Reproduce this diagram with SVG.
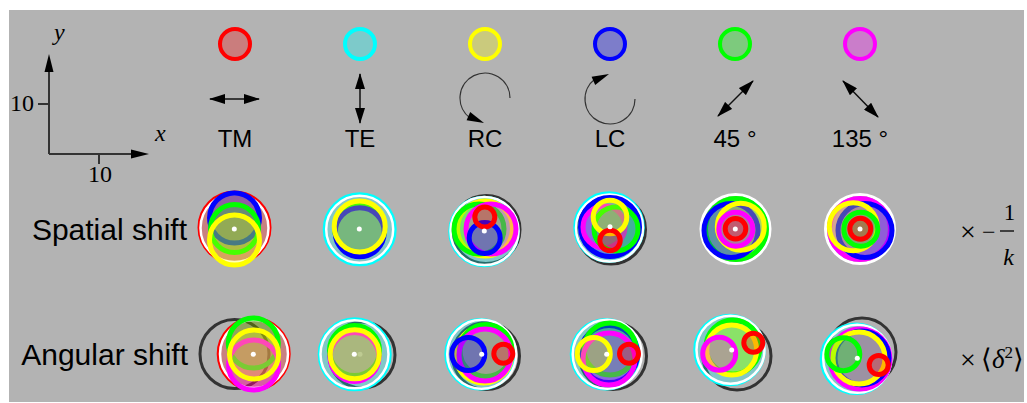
<svg xmlns="http://www.w3.org/2000/svg" width="1027" height="403" viewBox="0 0 1027 403">
<style>
.bg{fill:#b3b3b3}
.lab{font-family:"Liberation Sans",Arial,sans-serif;font-size:24px;fill:#000}
.row{font-size:30px}
.ser{font-family:"Liberation Serif","Times New Roman",serif;font-size:24px;fill:#000}
.it{font-style:italic}
.ax{stroke:#333;stroke-width:2;fill:none}
.arr{stroke:#111;stroke-width:1.5;fill:none;marker-start:url(#ah);marker-end:url(#ah)}
.arc{stroke:#333;stroke-width:1.2;fill:none}
.hd{fill:#000}
circle{stroke-width:5;fill-opacity:.28}
.R{stroke:#f00;fill:#f00}.C{stroke:#0ff;fill:#0ff}.Y{stroke:#ff0;fill:#ff0}
.B{stroke:#00f;fill:#00f}.G{stroke:#0f0;fill:#0f0}.M{stroke:#f0f;fill:#f0f}
.th{stroke-width:3}
.W{stroke:#fff;fill:none;stroke-width:2.5}
.K{stroke:#333;fill:none;stroke-width:3}
.d{fill:#fff;stroke:none;fill-opacity:1}
.lg{stroke-width:4;fill-opacity:.3}
</style>
<defs>
<marker id="ah" viewBox="0 0 16 10" refX="15" refY="5" markerWidth="16" markerHeight="10" orient="auto-start-reverse" markerUnits="userSpaceOnUse"><path d="M0,0 L16,5 L0,10 z" fill="#000"/></marker>
</defs>
<rect width="1027" height="403" fill="#fff"/>
<rect class="bg" x="9" y="10" width="1015" height="392"/>

<g id="axes">
<path class="ax" d="M49,154 V68 M49,154 H134 M38,104 H49 M99,154 V164"/>
<path class="hd" d="M49,54 L53.5,72 L44.5,72 z M149,154 L131,158.5 L131,149.5 z"/>
<text class="ser" x="34" y="111" text-anchor="end">10</text>
<text class="ser" x="100" y="182" text-anchor="middle">10</text>
<text class="ser it" x="155" y="141">x</text>
<text class="ser it" x="54" y="40">y</text>
</g>

<g id="connectors"></g>

<g id="legend-TM">
<circle class="R lg" cx="235" cy="44" r="15"/>
<line class="arr" x1="210" y1="99" x2="259" y2="99"/>
<text class="lab" x="235" y="147" text-anchor="middle">TM</text>
</g>
<g id="legend-TE">
<circle class="C lg" cx="360" cy="44" r="15"/>
<line class="arr" x1="360" y1="74" x2="360" y2="123"/>
<text class="lab" x="360" y="147" text-anchor="middle">TE</text>
</g>
<g id="legend-RC">
<circle class="Y lg" cx="485" cy="44" r="15"/>
<path class="arc" d="M510,98 A25,25 0 1 0 470,118"/>
<path class="hd" d="M484,123 L466.6,120.3 L470.2,112.1 z"/>
<text class="lab" x="485" y="147" text-anchor="middle">RC</text>
</g>
<g id="legend-LC">
<circle class="B lg" cx="610" cy="44" r="15"/>
<path class="arc" d="M635,99 A25,25 0 1 1 595,79"/>
<path class="hd" d="M609,74 L591.6,76.7 L595.2,84.9 z"/>
<text class="lab" x="610" y="147" text-anchor="middle">LC</text>
</g>
<g id="legend-45">
<circle class="G lg" cx="735" cy="44" r="15"/>
<line class="arr" x1="718" y1="116" x2="753" y2="81"/>
<text class="lab" x="735" y="147" text-anchor="middle">45 °</text>
</g>
<g id="legend-135">
<circle class="M lg" cx="860" cy="44" r="15"/>
<line class="arr" x1="843" y1="81" x2="878" y2="117"/>
<text class="lab" x="860" y="147" text-anchor="middle">135 °</text>
</g>

<g id="row-spatial">
<text class="lab row" x="187" y="240" text-anchor="end">Spatial shift</text>
</g>
<g id="row-angular">
<text class="lab row" x="188" y="365" text-anchor="end">Angular shift</text>
</g>

<g id="s-TM">
<circle class="R th" cx="234.5" cy="227.5" r="35.5"/>
<circle class="W" cx="234.5" cy="228" r="34"/>
<circle class="B" cx="234.5" cy="218" r="25"/>
<circle class="G" cx="234.5" cy="228.5" r="24"/>
<circle class="Y" cx="234.5" cy="240" r="25"/>
<circle class="d" cx="234.3" cy="229" r="2.5"/>
</g>
<g id="s-TE">
<circle class="C th" cx="359.7" cy="229.3" r="35.5"/>
<circle class="W" cx="359.7" cy="229.3" r="33.5"/>
<circle class="G" cx="359.7" cy="229" r="25"/>
<circle class="B" cx="359.7" cy="232.3" r="24.5"/>
<circle class="Y" cx="359.7" cy="226.5" r="25.5"/>
<circle class="d" cx="359.3" cy="229" r="2.5"/>
</g>
<g id="s-RC">
<circle class="K" cx="486" cy="229.5" r="34"/>
<circle class="C" style="stroke-width:2.5" cx="484" cy="231.5" r="34.5"/>
<circle class="W" cx="484.5" cy="231" r="34"/>
<circle class="Y" cx="485" cy="228.5" r="27.5"/>
<circle class="G" cx="479" cy="229" r="25"/>
<circle class="M" cx="491" cy="229" r="25"/>
<circle class="B" cx="484.7" cy="238" r="15.5"/>
<circle class="R" cx="484.8" cy="217" r="10"/>
<circle class="d" cx="484.3" cy="231" r="2.5"/>
</g>
<g id="s-LC">
<circle class="K" cx="611" cy="229.5" r="34.5"/>
<circle class="C" style="stroke-width:2.5" cx="609" cy="227" r="34.5"/>
<circle class="W" cx="609.5" cy="228" r="33.5"/>
<circle class="B" cx="610" cy="227" r="29.5"/>
<circle class="M" cx="604" cy="227" r="21"/>
<circle class="G" cx="616" cy="229" r="22"/>
<circle class="Y" cx="610" cy="217" r="16.8"/>
<circle class="R" cx="610" cy="240.5" r="10.2"/>
<circle class="d" cx="610" cy="226.7" r="2.5"/>
</g>
<g id="s-45">
<circle class="W" style="stroke-width:3" cx="735.5" cy="229" r="34.5"/>
<circle class="G" cx="736" cy="229" r="30.5"/>
<circle class="B" cx="731" cy="230.5" r="27"/>
<circle class="Y" cx="740.8" cy="226.7" r="23.5"/>
<circle class="M" cx="735.8" cy="229.2" r="17"/>
<circle class="R" cx="735.5" cy="228.8" r="10.3"/>
<circle class="d" cx="735.3" cy="229" r="2.5"/>
</g>
<g id="s-135">
<circle class="W" style="stroke-width:3" cx="860" cy="229" r="34.5"/>
<circle class="M" cx="860" cy="229" r="30.5"/>
<circle class="B" cx="865" cy="230.5" r="27"/>
<circle class="Y" cx="853.3" cy="226.7" r="24"/>
<circle class="G" cx="860.8" cy="229.2" r="17"/>
<circle class="R" cx="860.3" cy="228.8" r="10.5"/>
<circle class="d" cx="860" cy="229" r="2.5"/>
</g>

<g id="a-TM">
<circle class="K" cx="234.5" cy="354" r="34.5"/>
<circle class="R th" cx="253.7" cy="354" r="35.5"/>
<circle class="W" cx="254" cy="354" r="34"/>
<circle class="G" cx="253.3" cy="343" r="25"/>
<circle class="M" cx="253.5" cy="365" r="25"/>
<circle class="Y" cx="254" cy="354.5" r="24.5"/>
<circle class="d" cx="253.3" cy="354.3" r="2.5"/>
</g>
<g id="a-TE">
<circle class="K" cx="362" cy="355" r="33"/>
<circle class="d" cx="360" cy="354.3" r="2.5"/>
<circle class="C th" cx="354.7" cy="354.3" r="35.5"/>
<circle class="W" cx="354.5" cy="354.3" r="34"/>
<circle class="G" cx="354.5" cy="350.5" r="25"/>
<circle class="M" cx="354.5" cy="357" r="24.5"/>
<circle class="Y" cx="354.7" cy="354.3" r="24.5"/>
<circle class="d" cx="354.3" cy="354.3" r="2.5"/>
</g>
<g id="a-RC">
<circle class="K" cx="486" cy="356" r="33.5"/>
<circle class="C" style="stroke-width:2.5" cx="480.5" cy="354.3" r="35"/>
<circle class="W" cx="481.7" cy="354.3" r="34.5"/>
<circle class="Y" cx="483.5" cy="355" r="28"/>
<circle class="G" cx="486" cy="350.5" r="26"/>
<circle class="M" cx="485" cy="355" r="26"/>
<circle class="B" cx="468.3" cy="354" r="16.5"/>
<circle class="R" cx="503.3" cy="353.7" r="9.5"/>
<circle class="d" cx="481.7" cy="354.3" r="2.5"/>
</g>
<g id="a-LC">
<circle class="K" cx="613" cy="356" r="33.5"/>
<circle class="C" style="stroke-width:2.5" cx="606" cy="354.3" r="35"/>
<circle class="W" cx="607.2" cy="354.3" r="34.5"/>
<circle class="B" cx="609" cy="354" r="28.5"/>
<circle class="G" cx="610" cy="349" r="26"/>
<circle class="M" cx="609" cy="359" r="26"/>
<circle class="Y" cx="593.8" cy="354" r="16.5"/>
<circle class="R" cx="629" cy="353.7" r="9.5"/>
<circle class="d" cx="606.7" cy="354.3" r="2.5"/>
</g>
<g id="a-45">
<circle class="K" cx="737" cy="356" r="34"/>
<circle class="C" style="stroke-width:2.5" cx="729.5" cy="350" r="35"/>
<circle class="W" cx="730.5" cy="349.7" r="34"/>
<circle class="G" cx="733" cy="347" r="27"/>
<circle class="Y" cx="731.7" cy="350" r="25"/>
<circle class="M" cx="719.2" cy="353.7" r="16.5"/>
<circle class="R" cx="753.3" cy="342.7" r="9.5"/>
<circle class="d" cx="731.7" cy="350" r="2.5"/>
</g>
<g id="a-135">
<circle class="K" cx="862" cy="352" r="34"/>
<circle class="C" style="stroke-width:2.5" cx="856" cy="358.8" r="35"/>
<circle class="W" cx="857.2" cy="358.8" r="34"/>
<circle class="M" cx="860" cy="359" r="30"/>
<circle class="B" cx="862" cy="358" r="27"/>
<circle class="Y" cx="859" cy="358" r="26"/>
<circle class="G" cx="843.3" cy="354.2" r="16.5"/>
<circle class="R" cx="878.7" cy="365" r="9.5"/>
<circle class="d" cx="857.3" cy="358.3" r="2.5"/>
</g>

<g id="factor-spatial">
<text class="ser" x="960" y="241" style="font-size:28px">×</text>
<text class="ser" x="982" y="240" style="font-size:24px">−</text>
<line x1="1000" y1="231" x2="1014" y2="231" stroke="#000" stroke-width="1.3"/>
<text class="ser" x="1009.5" y="220" text-anchor="middle" style="font-size:23px">1</text>
<text class="ser it" x="1008.5" y="265" text-anchor="middle" style="font-size:24px">k</text>
</g>
<g id="factor-angular">
<text class="ser" x="960" y="369" style="font-size:28px">×</text>
<text class="ser" x="981" y="368" style="font-size:27px">⟨<tspan class="it">δ</tspan><tspan dy="-10" style="font-size:17px">2</tspan><tspan dy="10">⟩</tspan></text>
</g>
</svg>
